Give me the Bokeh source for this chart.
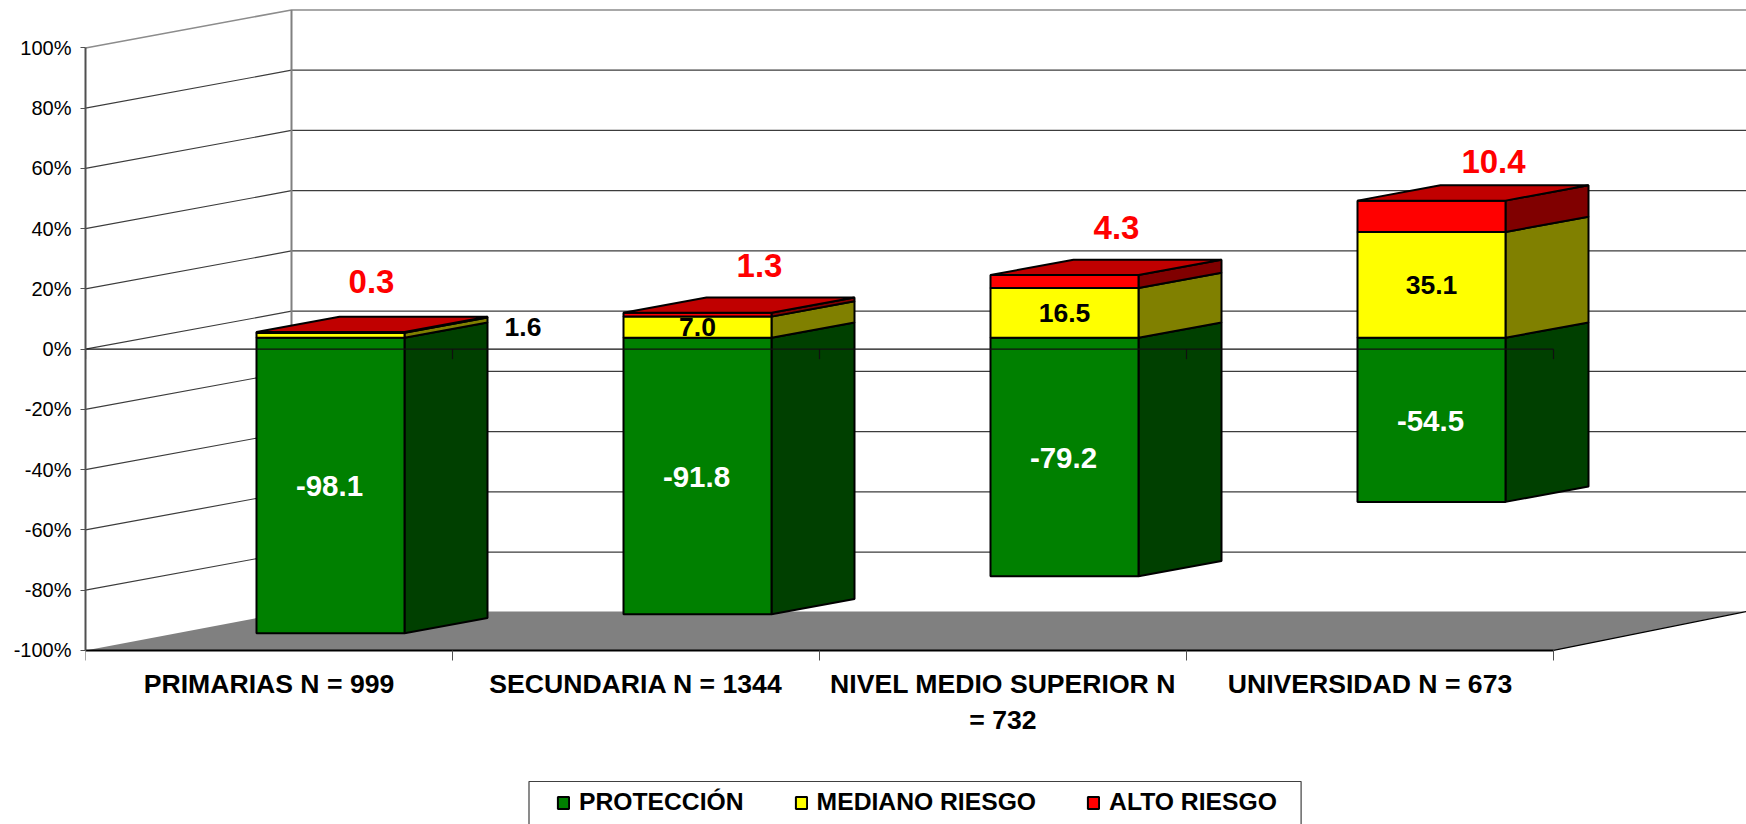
from bokeh.plotting import figure
from bokeh.models import (ColumnDataSource, FixedTicker, Legend, LegendItem,
                          PrintfTickFormatter, Range1d)
from bokeh.core.properties import value
from bokeh.embed import file_html
from bokeh.resources import INLINE

# ---------- data ----------
categories = ["PRIMARIAS N = 999", "SECUNDARIA N = 1344",
              "NIVEL MEDIO SUPERIOR N\n= 732", "UNIVERSIDAD N = 673"]
proteccion = [-98.1, -91.8, -79.2, -54.5]
mediano = [1.6, 7.0, 16.5, 35.1]
alto = [0.3, 1.3, 4.3, 10.4]
y_ticks = [-100, -80, -60, -40, -20, 0, 20, 40, 60, 80, 100]

# ---------- label nudges in px ----------
alto_dx = [41, 62, 52, 62]
alto_dy = [-50, -47, -48, -39]
mediano_dx = [192.5, 0, 0, 0]
mediano_dy = [-8, 0, 0, 0]

# ---------- geometry (px of the page) ----------
FONT = value("Liberation Sans")
PX_X0, PX_Y0 = 85.0, 348.7     # origin of the front plane
CAT_W, UNIT = 367.0, 3.0125    # px per category, px per percent
def ux(px): return px / CAT_W
def uy(px): return px / UNIT
def X(px): return (px - PX_X0) / CAT_W
def Y(py): return (PX_Y0 - py) / UNIT

WALL_DX, WALL_DY = ux(206), uy(38)
BAR_DX, BAR_DY = ux(61.5), uy(11.5)
SIDE_DX, SIDE_DY = ux(83), uy(15.3)
BAR_W = ux(148)

p = figure(width=1746, height=824, output_backend="svg", toolbar_location=None,
           x_range=Range1d(0, X(1746)), y_range=Range1d(Y(824), Y(0)),
           min_border_left=85, min_border_right=0, min_border_top=0, min_border_bottom=0,
           outline_line_color=None, background_fill_color="white")
p.grid.visible = False

# axes
ya = p.yaxis[0]
ya.ticker = FixedTicker(ticks=y_ticks)
ya.formatter = PrintfTickFormatter(format="%d%%")
ya.bounds = (-100, 100)
ya.axis_line_color = "#505050"
ya.axis_line_width = 2
ya.major_tick_line_color = "#505050"
ya.major_tick_in = 0
ya.major_tick_out = 5
ya.minor_tick_line_color = None
ya.major_label_standoff = 9
ya.major_label_text_font = "Liberation Sans"
ya.major_label_text_font_size = "20px"
ya.major_label_text_color = "black"

xa = p.xaxis[0]
xa.fixed_location = -100
xa.bounds = (0, 4)
xa.ticker = FixedTicker(ticks=[i + 0.5 for i in range(4)], minor_ticks=list(range(5)))
xa.major_label_overrides = {i + 0.5: c for i, c in enumerate(categories)}
xa.axis_line_color = "black"
xa.axis_line_width = 2
xa.major_tick_line_color = None
xa.major_tick_out = 0
xa.major_tick_in = 0
xa.minor_tick_line_color = "#505050"
xa.minor_tick_out = 10
xa.minor_tick_in = 0
xa.major_label_standoff = 9
xa.major_label_text_font = "Liberation Sans"
xa.major_label_text_font_style = "bold"
xa.major_label_text_font_size = "26.6px"
xa.major_label_text_color = "black"
xa.major_label_orientation = "horizontal"

# floor
floor_dx, floor_dy = ux(193), uy(39)
p.patch([0, WALL_DX, 4 + floor_dx, 4], [-100, -100 + floor_dy, -100 + floor_dy, -100],
        fill_color="#808080", line_color=None)
p.line([4, 4 + floor_dx], [-100, -100 + floor_dy], line_color="black", line_width=1.2)

# walls
for t in y_ticks[:-1]:
    if t == -100:
        continue
    p.line([0, WALL_DX, X(1746)], [t, t + WALL_DY, t + WALL_DY], line_color="#3c3c3c", line_width=1.2)
p.line([0, WALL_DX, X(1746)], [100, 100 + WALL_DY, 100 + WALL_DY], line_color="#8c8c8c", line_width=1.5)
p.line([WALL_DX, WALL_DX], [-100 + WALL_DY, 100 + WALL_DY], line_color="#808080", line_width=2)

# bars
centers = [i + 0.5 + BAR_DX for i in range(4)]
x0 = [c - BAR_W / 2 for c in centers]
x1 = [c + BAR_W / 2 for c in centers]
base = [0.0] * 4
m_top = list(mediano)
a_top = [m + a for m, a in zip(mediano, alto)]

series = [
    ("PROTECCIÓN", proteccion, base, "#008000", "#004000"),
    ("MEDIANO RIESGO", m_top, base, "#FFFF00", "#808000"),
    ("ALTO RIESGO", a_top, m_top, "#FF0000", "#800000"),
]
EDGE = dict(line_color="black", line_width=2)
items = []
for name, ends, starts, front, side in series:
    lo = [min(s, e) for s, e in zip(starts, ends)]
    hi = [max(s, e) for s, e in zip(starts, ends)]
    by0 = BAR_DY
    xs, ys = [], []
    for r, l, h in zip(x1, lo, hi):
        xs.append([r, r + SIDE_DX, r + SIDE_DX, r])
        ys.append([by0 + l, by0 + l + SIDE_DY, by0 + h + SIDE_DY, by0 + h])
    p.patches(xs, ys, fill_color=side, **EDGE)
    r_front = p.quad(left=x0, right=x1,
                     bottom=[by0 + l for l in lo], top=[by0 + h for h in hi],
                     fill_color=front, **EDGE)
    items.append(LegendItem(label=name, renderers=[r_front]))

# top faces
tx, ty = [], []
for l, r, t in zip(x0, x1, a_top):
    tx.append([l, l + SIDE_DX, r + SIDE_DX, r])
    ty.append([BAR_DY + t, BAR_DY + t + SIDE_DY, BAR_DY + t + SIDE_DY, BAR_DY + t])
p.patches(tx, ty, fill_color="#C00000", **EDGE)

# zero line and its ticks, drawn over the bars
p.line([0, 4], [0, 0], line_color="#101010", line_width=1.2)
p.segment(x0=list(range(5)), y0=[0] * 5, x1=list(range(5)), y1=[-uy(10)] * 5,
          line_color="#101010", line_width=1.2)

# data labels
p.text(x=centers, y=[BAR_DY + v / 2 for v in proteccion], text=[f"{v:.1f}" for v in proteccion],
       text_color="white", text_font=FONT, text_font_style="bold", text_font_size="29.5px",
       text_align="center", text_baseline="middle", x_offset=-1, y_offset=1)

src_m = ColumnDataSource(dict(x=centers, y=[BAR_DY + v / 2 for v in mediano],
                              t=[f"{v:.1f}" for v in mediano], dx=mediano_dx, dy=mediano_dy))
p.text(x="x", y="y", text="t", source=src_m, x_offset="dx", y_offset="dy",
       text_color="black", text_font=FONT, text_font_style="bold", text_font_size="26.5px",
       text_align="center", text_baseline="middle")

src_a = ColumnDataSource(dict(x=centers, y=[BAR_DY + v for v in a_top],
                              t=[f"{v:.1f}" for v in alto], dx=alto_dx, dy=alto_dy))
p.text(x="x", y="y", text="t", source=src_a, x_offset="dx", y_offset="dy",
       text_color="#FF0000", text_font=FONT, text_font_style="bold", text_font_size="33px",
       text_align="center", text_baseline="middle", background_fill_color="white")

# legend box (its lower edge falls past the page, as in the reference)
p.line([X(528.5), X(528.5), X(1300.6), X(1300.6)], [Y(824), Y(781), Y(781), Y(824)],
       line_color="#404040", line_width=1.2)
legend = Legend(items=items, orientation="horizontal", location=(471, 8),
                padding=0, margin=0, spacing=50, glyph_width=14, glyph_height=15,
                label_standoff=9, border_line_color=None, background_fill_alpha=0,
                label_text_font="Liberation Sans", label_text_font_style="bold",
                label_text_font_size="24.7px", label_text_color="black")
p.add_layout(legend)

open("out.html", "w").write(file_html(p, INLINE))
